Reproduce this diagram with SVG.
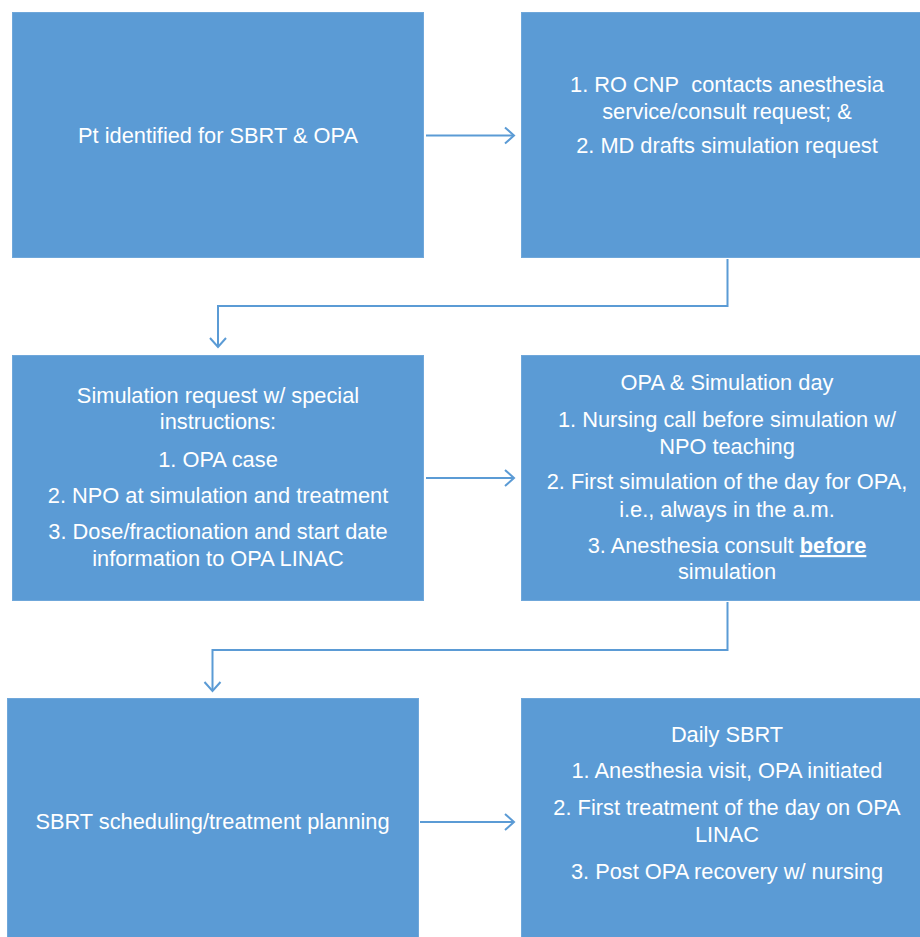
<svg xmlns="http://www.w3.org/2000/svg" width="920" height="937" viewBox="0 0 920 937">
<defs>
<style>
.box{fill:#5B9BD5;stroke:#6FA7DA;stroke-width:1}
.t{font-family:"Liberation Sans",Arial,sans-serif;font-size:21.8px;fill:#FFFFFF;text-anchor:middle}
.c{fill:none;stroke:#5B9BD5;stroke-width:2}
</style>
<marker id="ah" markerUnits="userSpaceOnUse" markerWidth="24" markerHeight="24" viewBox="-12 -12 24 24" refX="0" refY="0" orient="auto">
<path d="M-9,-8 L0,0 L-9,8" fill="none" stroke="#5B9BD5" stroke-width="2"/>
</marker>
</defs>
<rect width="920" height="937" fill="#FFFFFF"/>
<g id="n1">
<rect class="box" x="12.5" y="12.5" width="411" height="245"/>
<text class="t" x="218" y="143">Pt identified for SBRT &amp; OPA</text>
</g>
<g id="n2">
<rect class="box" x="521.5" y="12.5" width="412" height="245"/>
<text class="t" x="727" y="92">1. RO CNP&#160; contacts anesthesia</text>
<text class="t" x="727" y="119">service/consult request; &amp;</text>
<text class="t" x="727" y="153">2. MD drafts simulation request</text>
</g>
<g id="n3">
<rect class="box" x="12.5" y="355.5" width="411" height="245"/>
<text class="t" x="218" y="403">Simulation request w/ special</text>
<text class="t" x="218" y="429">instructions:</text>
<text class="t" x="218" y="467">1. OPA case</text>
<text class="t" x="218" y="503">2. NPO at simulation and treatment</text>
<text class="t" x="218" y="539">3. Dose/fractionation and start date</text>
<text class="t" x="218" y="566">information to OPA LINAC</text>
</g>
<g id="n4">
<rect class="box" x="521.5" y="355.5" width="412" height="245"/>
<text class="t" x="727" y="390">OPA &amp; Simulation day</text>
<text class="t" x="727" y="427">1. Nursing call before simulation w/</text>
<text class="t" x="727" y="454">NPO teaching</text>
<text class="t" x="727" y="489">2. First simulation of the day for OPA,</text>
<text class="t" x="727" y="517">i.e., always in the a.m.</text>
<text class="t" x="727" y="553">3. Anesthesia consult <tspan font-weight="bold" text-decoration="underline">before</tspan></text>
<text class="t" x="727" y="579">simulation</text>
</g>
<g id="n5">
<rect class="box" x="7.5" y="698.5" width="411" height="245"/>
<text class="t" x="212.5" y="829">SBRT scheduling/treatment planning</text>
</g>
<g id="n6">
<rect class="box" x="521.5" y="698.5" width="412" height="245"/>
<text class="t" x="727" y="742">Daily SBRT</text>
<text class="t" x="727" y="778">1. Anesthesia visit, OPA initiated</text>
<text class="t" x="727" y="815">2. First treatment of the day on OPA</text>
<text class="t" x="727" y="842">LINAC</text>
<text class="t" x="727" y="879">3. Post OPA recovery w/ nursing</text>
</g>
<g id="connectors">
<path class="c" d="M426,135.5 H514" marker-end="url(#ah)"/>
<path class="c" d="M727.5,259 V306 H218 V347" marker-end="url(#ah)"/>
<path class="c" d="M426,478 H514" marker-end="url(#ah)"/>
<path class="c" d="M727.5,602 V650 H212.5 V691" marker-end="url(#ah)"/>
<path class="c" d="M420,822 H514" marker-end="url(#ah)"/>
</g>
</svg>
